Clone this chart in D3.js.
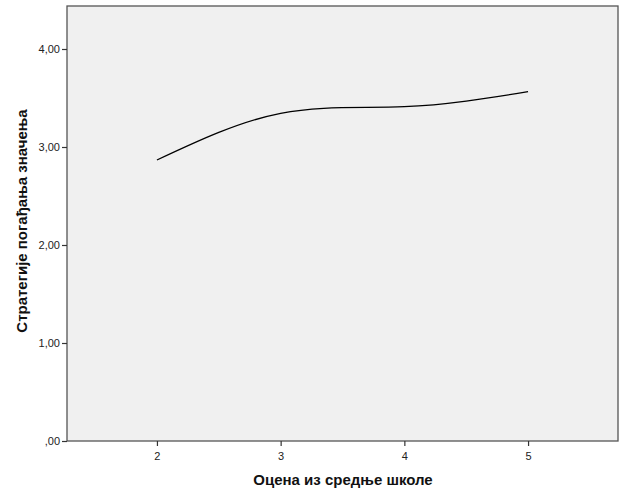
<!DOCTYPE html>
<html><head><meta charset="utf-8">
<script src="https://cdn.jsdelivr.net/npm/d3@7"></script>
<style>body{margin:0;background:#fff}text{font-family:"Liberation Sans",Arial,sans-serif}</style>
</head><body><svg id="c" width="626" height="501"></svg>
<script>
const xValues = [2, 3, 4, 5];
const yValues = [2.867, 3.344, 3.411, 3.564];
const xTicks = [2, 3, 4, 5];
const yTicks = [0, 1, 2, 3, 4];
const xTitle = "Оцена из средње школе";
const yTitle = "Стратегије погађања значења";

const svg = d3.select("#c");
const L = 67, R = 618, T = 6, B = 441;
const x = d3.scaleLinear().domain([1.273, 5.727]).range([L, R]);
const y = d3.scaleLinear().domain([0, (B - T) / 98]).range([B, T]);

svg.append("rect").attr("x", L).attr("y", T).attr("width", R - L).attr("height", B - T)
  .attr("fill", "#f0f0f0").attr("stroke", "#555").attr("stroke-width", 1.3);

const fmt = d => d === 0 ? ",00" : d3.format(".2f")(d).replace(".", ",");
const ya = svg.append("g").attr("transform", `translate(${L},0)`)
  .call(d3.axisLeft(y).tickValues(yTicks).tickFormat(fmt).tickSize(5).tickPadding(2));
const xa = svg.append("g").attr("transform", `translate(0,${B})`)
  .call(d3.axisBottom(x).tickValues(xTicks).tickFormat(d3.format("d")).tickSize(5).tickPadding(6));
[ya, xa].forEach(a => {
  a.select(".domain").remove();
  a.selectAll(".tick line").attr("stroke", "#333").attr("stroke-width", 1.2);
  a.selectAll(".tick text").attr("fill", "#222").style("font-size", "11px").style("font-family", "Liberation Sans, Arial, sans-serif");
});

const line = d3.line().x((d, i) => x(xValues[i])).y(d => y(d)).curve(d3.curveNatural);
svg.append("path").datum(yValues).attr("d", line).attr("fill", "none")
  .attr("stroke", "#000").attr("stroke-width", 1.3);

svg.append("text").attr("x", 343).attr("y", 485).attr("text-anchor", "middle")
  .style("font-size", "15px").style("font-weight", "bold").attr("fill", "#111").text(xTitle);
svg.append("text").attr("transform", "translate(27,221) rotate(-90)").attr("text-anchor", "middle")
  .style("font-size", "15px").style("font-weight", "bold").attr("fill", "#111").text(yTitle);
</script></body></html>
